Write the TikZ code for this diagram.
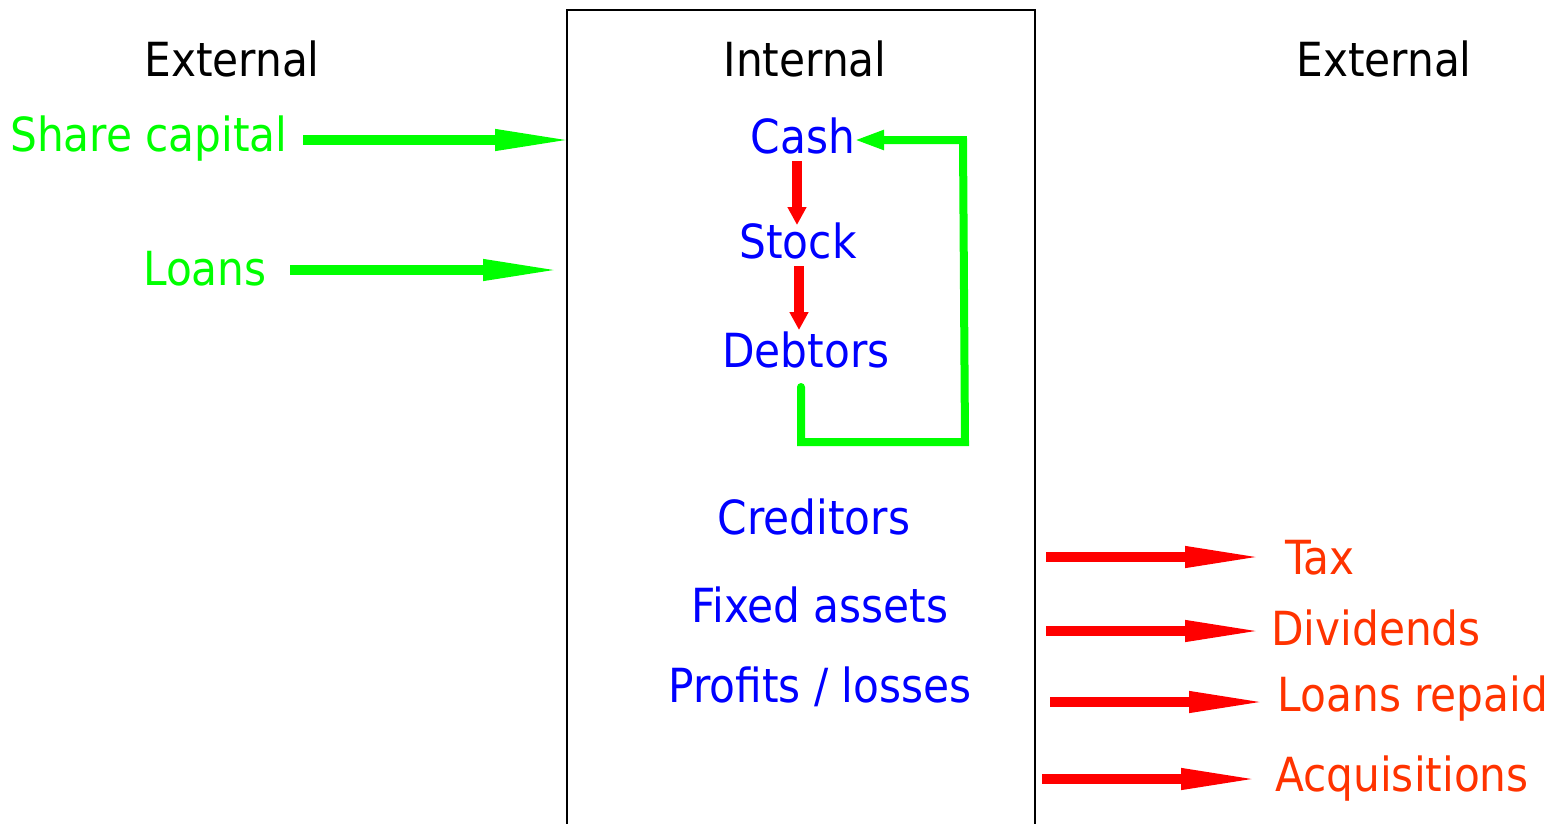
\documentclass[tikz,border=0pt]{standalone}
\usepackage{fontspec}
\setmainfont{DejaVu Sans Condensed}
\usetikzlibrary{arrows.meta}
\definecolor{lgreen}{HTML}{00FF00}
\definecolor{dblue}{HTML}{0000FF}
\definecolor{ored}{HTML}{FF3300}
\definecolor{pred}{HTML}{FF0000}
\tikzset{
  lbl/.style={inner sep=0pt, font=\fontsize{47}{52}\selectfont},
  blk/.style={lbl, text=black},
  grn/.style={lbl, text=lgreen},
  blu/.style={lbl, text=dblue},
  org/.style={lbl, text=ored},
  bigarrow/.style={line width=10pt, -{Triangle[length=82pt,width=19pt]}},
  smallarrow/.style={pred, line width=10pt, -{Triangle[length=18pt,width=18pt]}},
}
\begin{document}
\begin{tikzpicture}[x=1pt,y=-1pt]
\useasboundingbox (0,0) rectangle (1564,823);
\draw[line width=2pt] (567,830) -- (567,10) -- (1035,10) -- (1035,830);
% headings
\node[blk] (extL) at (232,59) {External};
\node[blk] (intl) at (805,59) {Internal};
\node[blk] (extR) at (1384,59) {External};
% green inputs
\node[grn] (share) at (149,139) {Share capital};
\node[grn] (loans) at (205,269) {Loans};
\coordinate (shareS) at (303,140);
\coordinate (shareE) at (577,140);
\coordinate (loansS) at (290,270);
\coordinate (loansE) at (565,270);
\draw[bigarrow, lgreen] (shareS) -- (shareE);
\draw[bigarrow, lgreen] (loansS) -- (loansE);
% internal
\node[blu] (cash) at (803,136) {Cash};
\node[blu] (stock) at (798,241) {Stock};
\node[blu] (debt) at (806,350) {Debtors};
\node[blu] (cred) at (814,517) {Creditors};
\node[blu] (fixed) at (820,605) {Fixed assets};
\node[blu] (prof) at (820,687) {Profits / losses};
\coordinate (a1s) at (797,161);
\coordinate (a1e) at (797,225);
\coordinate (a2s) at (799,266);
\coordinate (a2e) at (799,330);
\draw[smallarrow] (a1s) -- (a1e);
\draw[smallarrow] (a2s) -- (a2e);
\coordinate (loopS) at (801,387);
\coordinate (loopE) at (854,140);
\draw[lgreen, line width=8pt, line cap=round, line join=miter, -{Triangle[length=30pt,width=18pt]}]
  (loopS) -- (801,442) -- (965,442) -- (963,140) -- (loopE);
% outputs
\coordinate (t1s) at (1046,557); \coordinate (t1e) at (1267,557);
\coordinate (t2s) at (1046,631); \coordinate (t2e) at (1267,631);
\coordinate (t3s) at (1050,702); \coordinate (t3e) at (1271,702);
\coordinate (t4s) at (1042,779); \coordinate (t4e) at (1263,779);
\draw[bigarrow, pred] (t1s) -- (t1e);
\draw[bigarrow, pred] (t2s) -- (t2e);
\draw[bigarrow, pred] (t3s) -- (t3e);
\draw[bigarrow, pred] (t4s) -- (t4e);
\node[org] (tax) at (1320,558) {Tax};
\node[org] (div) at (1376,628) {Dividends};
\node[org] (lrep) at (1413,699) {Loans repaid};
\node[org] (acq) at (1402,779) {Acquisitions};
\end{tikzpicture}
\end{document}
